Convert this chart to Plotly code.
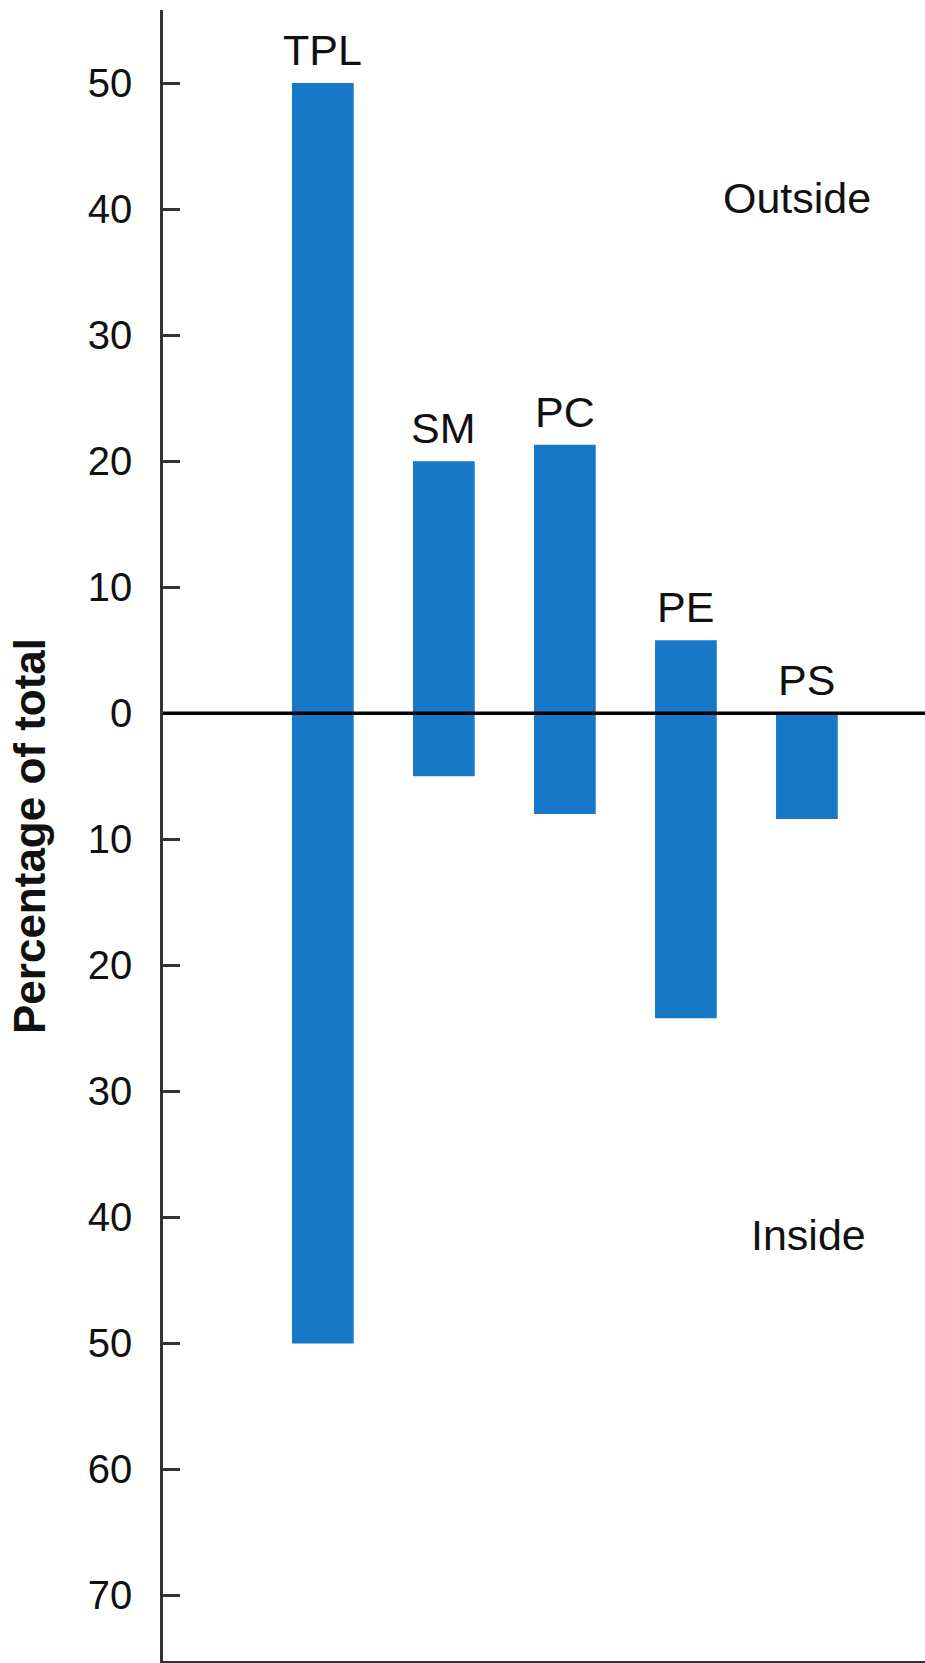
import plotly.graph_objects as go

# ---- data (percentage of total) ----
lipids = ["TPL", "SM", "PC", "PE", "PS"]
outside_pct = [50, 20, 21.3, 5.8, 0]
inside_pct = [50, 5, 8, 24.2, 8.4]
tick_values = [50, 40, 30, 20, 10, 0, -10, -20, -30, -40, -50, -60, -70]
tick_labels = [str(abs(v)) for v in tick_values]

BAR_COLOR = "#1878c8"
FONT = "Liberation Sans, Arial, Helvetica, sans-serif"

xpos = list(range(len(lipids)))

fig = go.Figure()
fig.add_trace(go.Bar(
    x=xpos, y=outside_pct, width=0.51,
    marker=dict(color=BAR_COLOR, line=dict(width=0)),
    name="Outside", hoverinfo="skip"))
fig.add_trace(go.Bar(
    x=xpos, y=[-v for v in inside_pct], width=0.51,
    marker=dict(color=BAR_COLOR, line=dict(width=0)),
    name="Inside", hoverinfo="skip"))

# bar labels above outside part
for i, name in enumerate(lipids):
    fig.add_annotation(x=i, y=outside_pct[i], text=name, showarrow=False,
                       xref="x", yref="y", xanchor="center", yanchor="bottom", yshift=7,
                       font=dict(family=FONT, size=43, color="#111"))

# region labels
fig.add_annotation(x=0.832, y=0.886, xref="paper", yref="paper", text="Outside",
                   xanchor="center", yanchor="middle",
                   showarrow=False, font=dict(family=FONT, size=43, color="#111"))
fig.add_annotation(x=0.8465, y=0.258, xref="paper", yref="paper", text="Inside",
                   xanchor="center", yanchor="middle",
                   showarrow=False, font=dict(family=FONT, size=43, color="#111"))

# axis title
fig.add_annotation(x=-0.1745, y=0.4997, xref="paper", yref="paper",
                   text="<b>Percentage of total</b>", textangle=-90, showarrow=False,
                   xanchor="center", yanchor="middle",
                   font=dict(family=FONT, size=44, color="#111"))

# zero line above bars
fig.add_shape(type="line", xref="paper", yref="y", x0=0, x1=1, y0=0, y1=0,
              line=dict(color="#000", width=3.5), layer="above")

fig.update_layout(
    width=925, height=1663,
    margin=dict(l=163, r=0, t=10, b=2, pad=0, autoexpand=False),
    paper_bgcolor="white", plot_bgcolor="white",
    barmode="relative", showlegend=False,
    xaxis=dict(range=[-1.321, 4.976], showticklabels=False, ticks="",
               showgrid=False, zeroline=False, showline=True, automargin=False,
               linecolor="#333", linewidth=2.5, fixedrange=True),
    yaxis=dict(range=[-75.2, 55.8], tickvals=tick_values, ticktext=tick_labels,
               ticks="inside", ticklen=17, tickwidth=2.5, tickcolor="#333",
               showgrid=False, zeroline=False, showline=True, automargin=False,
               linecolor="#333", linewidth=2.5,
               tickfont=dict(family=FONT, size=40, color="#111"),
               ticklabelstandoff=20, fixedrange=True),
)

fig.write_html(
    "out.html",
    config={"displayModeBar": False},
    post_script="document.body.style.margin='0';document.body.style.padding='0';"
                "document.body.style.overflow='hidden';",
)
